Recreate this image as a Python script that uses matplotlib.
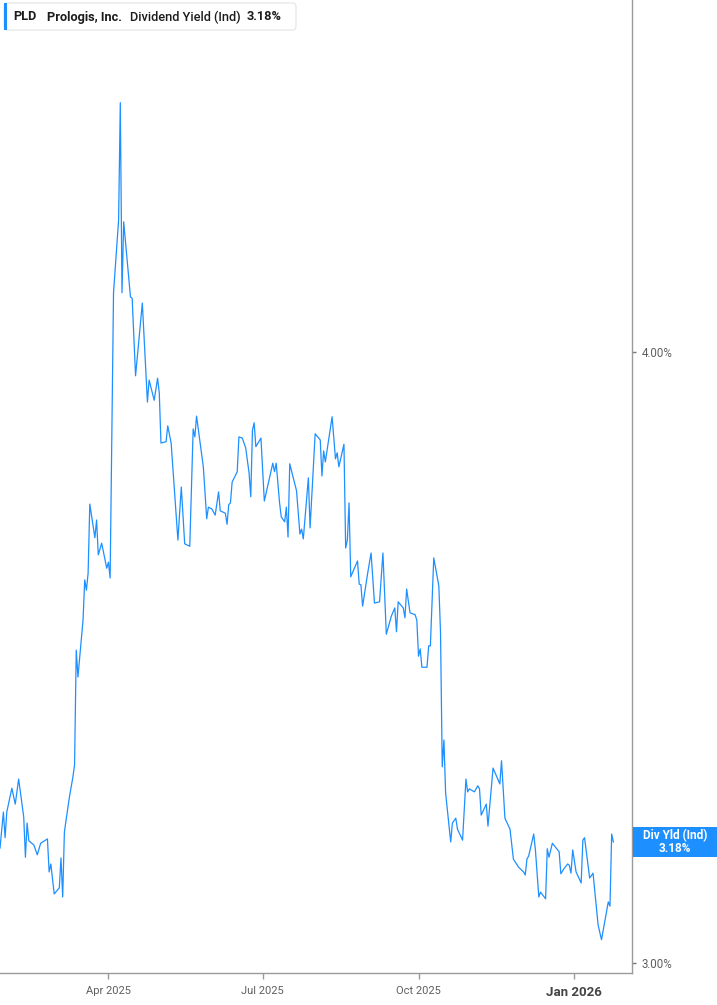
import pandas as pd
import matplotlib
matplotlib.use('Agg')
import matplotlib.pyplot as plt
from matplotlib.patches import Rectangle, FancyBboxPatch

plt.rcParams['font.family'] = ['Roboto', 'DejaVu Sans']

# Prologis dividend yield (Ind)
dates = [
    '2025-01-27', '2025-01-29', '2025-01-30', '2025-01-31', '2025-02-03', '2025-02-05', '2025-02-07',
    '2025-02-10', '2025-02-11', '2025-02-12', '2025-02-13', '2025-02-16', '2025-02-18', '2025-02-20',
    '2025-02-24', '2025-02-25', '2025-02-26', '2025-02-28', '2025-03-03', '2025-03-04', '2025-03-05',
    '2025-03-06', '2025-03-07', '2025-03-09', '2025-03-11', '2025-03-12', '2025-03-13', '2025-03-14',
    '2025-03-17', '2025-03-18', '2025-03-19', '2025-03-20', '2025-03-21', '2025-03-24', '2025-03-25',
    '2025-03-26', '2025-03-28', '2025-03-31', '2025-04-01', '2025-04-02', '2025-04-04', '2025-04-07',
    '2025-04-08', '2025-04-09', '2025-04-10', '2025-04-12', '2025-04-14', '2025-04-15', '2025-04-17',
    '2025-04-21', '2025-04-24', '2025-04-25', '2025-04-28', '2025-04-30', '2025-05-01', '2025-05-02',
    '2025-05-05', '2025-05-06', '2025-05-08', '2025-05-12', '2025-05-14', '2025-05-16', '2025-05-19',
    '2025-05-21', '2025-05-22', '2025-05-23', '2025-05-27', '2025-05-29', '2025-05-30', '2025-06-01',
    '2025-06-03', '2025-06-05', '2025-06-06', '2025-06-09', '2025-06-10', '2025-06-11', '2025-06-12',
    '2025-06-13', '2025-06-16', '2025-06-17', '2025-06-19', '2025-06-21', '2025-06-23', '2025-06-24',
    '2025-06-25', '2025-06-26', '2025-06-27', '2025-06-30', '2025-07-02', '2025-07-07', '2025-07-08',
    '2025-07-09', '2025-07-11', '2025-07-12', '2025-07-14', '2025-07-15', '2025-07-16', '2025-07-17',
    '2025-07-21', '2025-07-23', '2025-07-24', '2025-07-25', '2025-07-28', '2025-07-29', '2025-08-01',
    '2025-08-04', '2025-08-05', '2025-08-06', '2025-08-07', '2025-08-11', '2025-08-13', '2025-08-14',
    '2025-08-15', '2025-08-18', '2025-08-19', '2025-08-20', '2025-08-21', '2025-08-22', '2025-08-26',
    '2025-08-27', '2025-08-28', '2025-08-29', '2025-09-01', '2025-09-03', '2025-09-05', '2025-09-08',
    '2025-09-10', '2025-09-12', '2025-09-15', '2025-09-17', '2025-09-18', '2025-09-19', '2025-09-22',
    '2025-09-23', '2025-09-24', '2025-09-26', '2025-09-29', '2025-09-30', '2025-10-01', '2025-10-02',
    '2025-10-03', '2025-10-06', '2025-10-07', '2025-10-08', '2025-10-10', '2025-10-13', '2025-10-14',
    '2025-10-15', '2025-10-16', '2025-10-17', '2025-10-20', '2025-10-21', '2025-10-23', '2025-10-24',
    '2025-10-27', '2025-10-29', '2025-10-30', '2025-10-31', '2025-11-03', '2025-11-05', '2025-11-06',
    '2025-11-07', '2025-11-10', '2025-11-11', '2025-11-14', '2025-11-18', '2025-11-19', '2025-11-21',
    '2025-11-24', '2025-11-26', '2025-11-29', '2025-12-02', '2025-12-03', '2025-12-04', '2025-12-05',
    '2025-12-08', '2025-12-09', '2025-12-11', '2025-12-12', '2025-12-15', '2025-12-16', '2025-12-17',
    '2025-12-19', '2025-12-23', '2025-12-24', '2025-12-26', '2025-12-28', '2025-12-29', '2025-12-30',
    '2025-12-31', '2026-01-02', '2026-01-05', '2026-01-06', '2026-01-07', '2026-01-10', '2026-01-12',
    '2026-01-15', '2026-01-17', '2026-01-21', '2026-01-22', '2026-01-23', '2026-01-24',
]
yields = [
    3.188, 3.247, 3.205, 3.247, 3.286, 3.260, 3.301,
    3.239, 3.173, 3.229, 3.200, 3.193, 3.177, 3.196,
    3.203, 3.149, 3.162, 3.113, 3.123, 3.172, 3.108,
    3.214, 3.234, 3.272, 3.304, 3.324, 3.512, 3.468,
    3.561, 3.627, 3.610, 3.638, 3.751, 3.696, 3.725,
    3.668, 3.687, 3.646, 3.656, 3.630, 4.097, 4.216,
    4.408, 4.097, 4.213, 4.151, 4.090, 4.088, 3.961,
    4.080, 3.918, 3.954, 3.921, 3.957, 3.933, 3.851,
    3.853, 3.879, 3.851, 3.692, 3.779, 3.686, 3.682,
    3.874, 3.861, 3.895, 3.812, 3.727, 3.746, 3.743,
    3.733, 3.771, 3.740, 3.736, 3.718, 3.750, 3.753,
    3.787, 3.804, 3.861, 3.859, 3.843, 3.802, 3.763,
    3.872, 3.884, 3.845, 3.859, 3.756, 3.818, 3.804,
    3.818, 3.753, 3.730, 3.722, 3.746, 3.697, 3.817,
    3.773, 3.702, 3.710, 3.694, 3.794, 3.712, 3.866,
    3.856, 3.797, 3.838, 3.820, 3.894, 3.825, 3.835,
    3.812, 3.849, 3.679, 3.692, 3.753, 3.632, 3.658,
    3.620, 3.619, 3.584, 3.638, 3.671, 3.589, 3.591,
    3.671, 3.538, 3.568, 3.581, 3.542, 3.591, 3.581,
    3.565, 3.612, 3.573, 3.570, 3.561, 3.502, 3.514,
    3.484, 3.484, 3.519, 3.519, 3.663, 3.617, 3.540,
    3.321, 3.365, 3.278, 3.198, 3.229, 3.237, 3.219,
    3.201, 3.301, 3.280, 3.285, 3.280, 3.290, 3.285,
    3.242, 3.260, 3.224, 3.319, 3.293, 3.331, 3.237,
    3.219, 3.170, 3.157, 3.149, 3.144, 3.170, 3.175,
    3.211, 3.185, 3.108, 3.116, 3.105, 3.187, 3.173,
    3.196, 3.182, 3.146, 3.155, 3.162, 3.160, 3.147,
    3.185, 3.149, 3.131, 3.201, 3.205, 3.139, 3.147,
    3.062, 3.038, 3.100, 3.093, 3.211, 3.198,
]
tick_dates = ['2025-04-01', '2025-07-01', '2025-10-01', '2026-01-01']
tick_labels = ['Apr 2025', 'Jul 2025', 'Oct 2025', 'Jan 2026']
ytick_vals = [3.0, 4.0]
ytick_labels = ['3.00%', '4.00%']
last_label = '3.18%'

blue = '#1e8fff'
grey = '#5f5f5f'
W, H = 717, 1005

fig = plt.figure(figsize=(W / 100, H / 100), dpi=100)
ax = fig.add_axes([0, 1 - 973 / H, 632 / W, 973 / H])

ax.plot(pd.to_datetime(dates), yields, color=blue, lw=0.9)

ax.set_xlim(pd.Timestamp('2025-01-27'), pd.Timestamp('2026-02-04'))
ax.set_ylim(2.9836, 4.576)

for s in ['left', 'top']:
    ax.spines[s].set_visible(False)
for s in ['right', 'bottom']:
    ax.spines[s].set_color('#9a9a9a')
    ax.spines[s].set_linewidth(1.0)

ax.yaxis.tick_right()
ax.set_yticks(ytick_vals)
ax.set_yticklabels(ytick_labels)
ax.tick_params(axis='y', length=3, width=1, color='#777777', labelsize=8.3,
               labelcolor=grey, pad=4)

ax.set_xticks(pd.to_datetime(tick_dates))
ax.set_xticklabels(tick_labels)
ax.tick_params(axis='x', length=4, width=1, color='#9a9a9a', labelsize=8,
               labelcolor=grey, pad=5)
lbl = ax.get_xticklabels()[-1]
lbl.set_fontweight('bold')
lbl.set_fontsize(9.5)
lbl.set_color('#444444')

# legend box at top-left
box = FancyBboxPatch((4 / W, 1 - 30 / H), 292 / W, 27 / H,
                     boxstyle='round,pad=0,rounding_size=0.004',
                     transform=fig.transFigure, facecolor='white',
                     edgecolor='#e4e4e4', lw=0.8)
fig.add_artist(box)
fig.add_artist(Rectangle((4 / W, 1 - 30 / H), 3 / W, 27 / H,
                         transform=fig.transFigure, color=blue, lw=0))
ty = 1 - 17 / H
fig.text(13 / W, ty, 'PLD', fontsize=9.2, fontweight='bold', color='#1c1c1c', va='center')
fig.text(47 / W, ty, 'Prologis, Inc.', fontsize=9.2, fontweight='bold', color='#1c1c1c', va='center')
fig.text(130 / W, ty, 'Dividend Yield (Ind)', fontsize=9.2, fontweight='medium', color='#1c1c1c', va='center')
fig.text(247 / W, ty, last_label, fontsize=9.2, fontweight='bold', color='#1c1c1c', va='center')

# last value tag on the right
fig.add_artist(Rectangle((633 / W, 1 - 857 / H), 84 / W, 30 / H,
                         transform=fig.transFigure, color=blue, lw=0))
fig.text(675 / W, 1 - 842 / H, 'Div Yld (Ind)\n' + last_label, fontsize=8.5,
         fontweight='bold', color='white', ha='center', va='center', linespacing=1.0)

fig.savefig('out.png', dpi=100)
